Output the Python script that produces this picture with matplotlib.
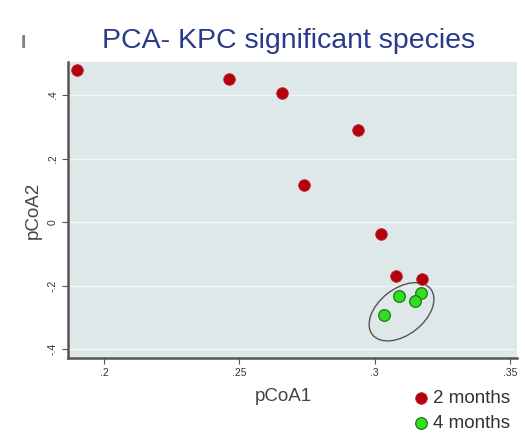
import matplotlib.pyplot as plt
from matplotlib.patches import Ellipse
import numpy as np

plt.rcParams['font.family'] = ['Liberation Sans', 'DejaVu Sans']

# PCoA scores
x_2m = [0.190, 0.2463, 0.2656, 0.2940, 0.2737, 0.3022, 0.3080, 0.3175]
y_2m = [0.479, 0.450, 0.406, 0.290, 0.118, -0.038, -0.170, -0.178]
x_4m = [0.3088, 0.3170, 0.3150, 0.3035]
y_4m = [-0.232, -0.224, -0.250, -0.292]

xticks = [0.20, 0.25, 0.30, 0.35]
xticklabels = ['.2', '.25', '.3', '.35']
yticks = [-0.4, -0.2, 0.0, 0.2, 0.4]
yticklabels = ['-.4', '-.2', '0', '.2', '.4']

fig = plt.figure(figsize=(5.25, 4.33), dpi=100)
ax = fig.add_axes([0.1295, 0.1732, 0.8555, 0.6836])
ax.set_facecolor('#dfe8e8')

ax.set_xlim(0.1867, 0.3526)
ax.set_ylim(-0.428, 0.504)

for yy in yticks:
	ax.axhline(yy, color='#f0f5f5', lw=1.0, zorder=0)

ax.scatter(x_2m, y_2m, s=70, color='#b3000f', edgecolors='#c8202c', linewidths=0.6, zorder=3, label='2 months')
ax.scatter(x_4m, y_4m, s=70, color='#33dd22', edgecolors='#1a7a10', linewidths=0.9, zorder=3, label='4 months')

# ellipse around the 4 month cluster (drawn in display space so the tilt is kept)
cx, cy = 0.3099, -0.2825
pts = ax.transData.transform([(cx, cy)])[0]
ell = Ellipse(pts, width=74, height=46, angle=38, transform=None, fill=False,
	edgecolor='#555555', lw=1.0, zorder=2)
ax.add_artist(ell)

ax.set_xticks(xticks)
ax.set_xticklabels(xticklabels, fontsize=7.5, color='#333333')
ax.set_yticks(yticks)
ax.set_yticklabels(yticklabels, fontsize=7.5, color='#333333', rotation=90, va='center')
ax.tick_params(direction='out', length=4, color='#555555', width=0.8)

for s in ['top', 'right']:
	ax.spines[s].set_visible(False)
ax.spines['left'].set_color('#555555')
ax.spines['bottom'].set_color('#555555')
ax.spines['left'].set_linewidth(1.8)
ax.spines['bottom'].set_linewidth(1.8)

ax.set_xlabel('pCoA1', fontsize=13.5, color='#444444')
ax.set_ylabel('pCoA2', fontsize=13.5, color='#444444')
ax.xaxis.set_label_coords(0.479, -0.101)
ax.yaxis.set_label_coords(-0.058, 0.5)

fig.text(0.549, 0.889, 'PCA- KPC significant species', ha='center', va='baseline',
	fontsize=20.5, color='#2a3a8a')
fig.text(0.044, 0.889, 'I', ha='center', va='baseline', fontsize=14, fontweight='bold', color='#808080')

leg = ax.legend(loc='center left', bbox_to_anchor=(0.75, -0.178), frameon=False,
	fontsize=13.5, handletextpad=0.2, labelspacing=0.4, borderaxespad=0, handlelength=0.9)
for t in leg.get_texts():
	t.set_color('#333333')

fig.savefig('out.png', dpi=100)
